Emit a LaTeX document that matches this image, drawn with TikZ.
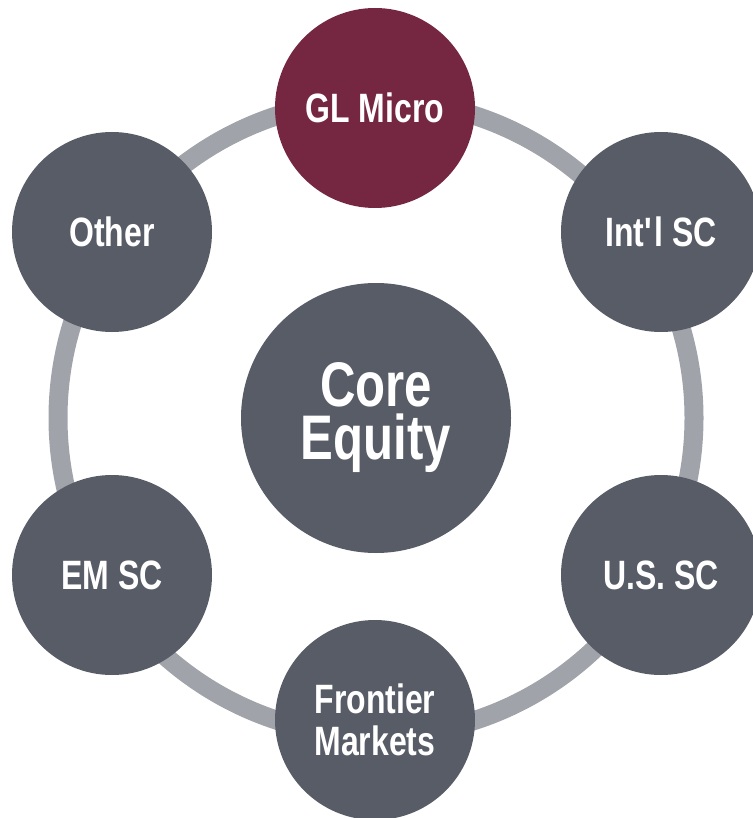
\documentclass[tikz,border=0pt]{standalone}
\usepackage{fontspec}
\setmainfont{Liberation Sans}[FakeStretch=0.78]
\definecolor{slate}{HTML}{585C66}
\definecolor{wine}{HTML}{752641}
\definecolor{ringgrey}{HTML}{A0A3A9}

\begin{document}
\begin{tikzpicture}[x=1pt, y=-1pt]
\tikzstyle{bubble} = [circle, fill = slate, minimum size = 200pt, inner sep = 0pt, text = white, align = center, font = \fontsize{41}{42}\selectfont\bfseries]
\tikzstyle{ring} = [draw = ringgrey, line width = 19pt]
\useasboundingbox (0, 0) rectangle (752, 818);
\node[bubble, minimum size = 270pt, font = \fontsize{63}{53}\selectfont\bfseries] (core) at (376, 418) {Core\\Equity};
\draw[ring] (core.center) circle (318pt);
\node[bubble, fill = wine] (glmicro) at (375, 108) {GL Micro};
\node[bubble] (intlsc) at (661, 232) {Int\textquotesingle l SC};
\node[bubble] (ussc) at (661, 575) {U.S. SC};
\node[bubble] (frontier) at (375, 720) {Frontier\\Markets};
\node[bubble] (emsc) at (112, 575) {EM SC};
\node[bubble] (other) at (112, 232) {Other};
\end{tikzpicture}
\end{document}
